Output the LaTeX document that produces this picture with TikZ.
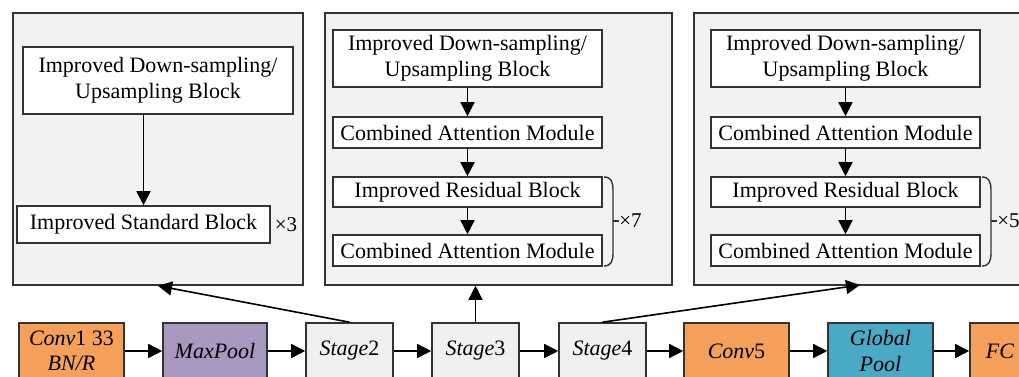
\documentclass[tikz,border=0pt]{standalone}
\usepackage{fontspec}
\setmainfont{Liberation Serif}
\usetikzlibrary{arrows.meta}
\definecolor{edge}{HTML}{333333}
\definecolor{panelfill}{HTML}{F2F2F2}
\definecolor{stagefill}{HTML}{F0F0F0}
\definecolor{convorange}{HTML}{F4A05A}
\definecolor{poolpurple}{HTML}{A898C0}
\definecolor{gpteal}{HTML}{4AAAC6}
\tikzset{
  x=0.5pt, y=-0.5pt,
  every node/.style={font=\fontsize{11pt}{12.8pt}\selectfont, inner sep=0pt, align=center},
  panel/.style={draw=edge, line width=0.8pt, fill=panelfill, rectangle},
  blockbox/.style={draw=edge, line width=0.8pt, fill=white, rectangle, minimum width=134.5pt},
  rowbox/.style={draw=edge, line width=0.8pt, rectangle, minimum height=28pt},
  flow/.style={line width=0.8pt, draw=black, -{Triangle[length=7pt,width=7pt]}},
  reps/.style={font=\fontsize{10.5pt}{12pt}\selectfont, anchor=west},
  bracket/.style={line width=0.7pt, draw=edge}
}
\begin{document}
\begin{tikzpicture}
\useasboundingbox (0,0) rectangle (1019,376);
\clip (0,0) rectangle (1019,376);

% ---- stage panels ----
\node[panel, minimum width=145pt, minimum height=136pt] (p1) at (158,149) {};
\node[panel, minimum width=173.5pt, minimum height=136pt] (p2) at (498.5,149) {};
\node[panel, minimum width=173.5pt, minimum height=136pt] (p3) at (867.5,149) {};

% panel 1: Stage2
\node[blockbox, minimum width=135pt, minimum height=33.5pt] (d1) at (158,80.5)
  {Improved Down-sampling/\\Upsampling Block};
\node[blockbox, minimum width=126.5pt, minimum height=18.5pt] (st1) at (143.5,224.5)
  {Improved Standard Block};
\node[reps, anchor=center] (x3) at (286,225) {×3};
\draw[flow] (st1.north |- d1.south) -- (st1.north);

% panel 2: Stage3
\node[blockbox, minimum height=28.5pt] (d2) at (467.5,58.5)
  {Improved Down-sampling/\\Upsampling Block};
\node[blockbox, minimum height=15.5pt] (ca2) at (467.5,132.5) {Combined Attention Module};
\node[blockbox, minimum height=15pt] (r2) at (467.5,192) {Improved Residual Block};
\node[blockbox, minimum height=15.5pt] (cb2) at (467.5,250.5) {Combined Attention Module};
\draw[flow] (d2) -- (ca2);
\draw[flow] (ca2) -- (r2);
\draw[flow] (r2) -- (cb2);
\draw[bracket] (604,177) .. controls (611,177) and (613,182) .. (613,190)
  -- (613,253) .. controls (613,261) and (611,266) .. (604,266);
\draw[bracket] (613,221) -- (619,221);
\node[reps] (x7) at (619,221) {×7};

% panel 3: Stage4
\node[blockbox, minimum height=28.5pt] (d3) at (845.5,58.5)
  {Improved Down-sampling/\\Upsampling Block};
\node[blockbox, minimum height=15.5pt] (ca3) at (845.5,132.5) {Combined Attention Module};
\node[blockbox, minimum height=15pt] (r3) at (845.5,192) {Improved Residual Block};
\node[blockbox, minimum height=15.5pt] (cb3) at (845.5,250.5) {Combined Attention Module};
\draw[flow] (d3) -- (ca3);
\draw[flow] (ca3) -- (r3);
\draw[flow] (r3) -- (cb3);
\draw[bracket] (982,177) .. controls (989,177) and (991,182) .. (991,190)
  -- (991,253) .. controls (991,261) and (989,266) .. (982,266);
\draw[bracket] (991,221) -- (997,221);
\node[reps] (x5) at (997,221) {×5};

% ---- main pipeline ----
\node[rowbox, fill=convorange, minimum width=52.5pt] (conv1) at (71.5,351)
  {\textit{Conv}1 33\\\textit{BN/R}};
\node[rowbox, fill=poolpurple, minimum width=52pt] (mp) at (215,351) {\textit{MaxPool}};
\node[rowbox, fill=stagefill, minimum width=43.5pt] (s2) at (349.5,351) {\textit{Stage}2};
\node[rowbox, fill=stagefill, minimum width=43.5pt] (s3) at (475.5,351) {\textit{Stage}3};
\node[rowbox, fill=stagefill, minimum width=43.5pt] (s4) at (602.5,351) {\textit{Stage}4};
\node[rowbox, fill=convorange, minimum width=52.5pt] (conv5) at (736.5,351) {\textit{Conv}5};
\node[rowbox, fill=gpteal, minimum width=52.5pt] (gp) at (880.5,351) {\textit{Global}\\\textit{Pool}};
\node[rowbox, fill=convorange, minimum width=30pt] (fc) at (1000,351) {\textit{FC}};

\draw[flow] (conv1) -- (mp);
\draw[flow] (mp) -- (s2);
\draw[flow] (s2) -- (s3);
\draw[flow] (s3) -- (s4);
\draw[flow] (s4) -- (conv5);
\draw[flow] (conv5) -- (gp);
\draw[flow] (gp) -- (fc);

% stage expansions
\coordinate (p3in) at (860,285);
\draw[flow] (s2.north) -- (p1.south);
\draw[flow] (s3.north) -- (s3.north |- p2.south);
\draw[flow] (s4.north) -- (p3in);
\end{tikzpicture}
\end{document}
